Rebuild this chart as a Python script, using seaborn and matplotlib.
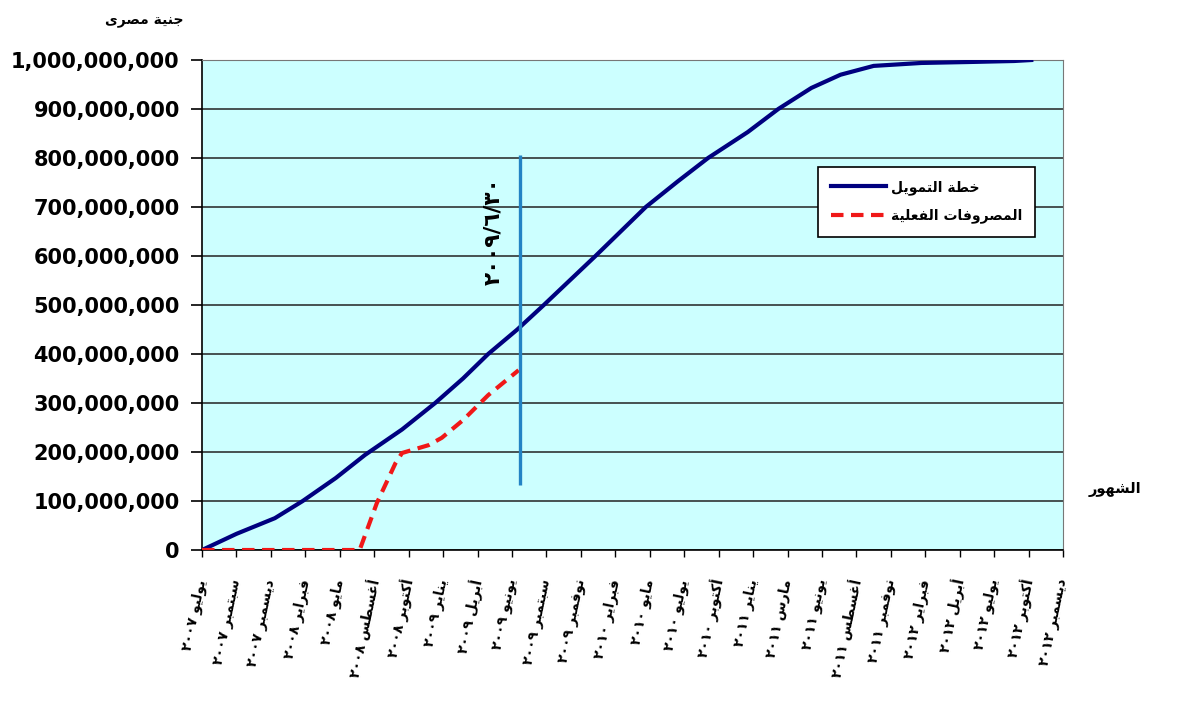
import numpy as np
import pandas as pd
import seaborn as sns
import matplotlib.pyplot as plt
from matplotlib.ticker import FuncFormatter


# months counted from July 2007 (0) to December 2012 (65)
plan_months = [0, 2.6, 5.5, 7.6, 10.1, 12.3, 15.1, 17.6, 19.7, 21.6, 23.8, 25.8, 29.7,
               33.5, 35.9, 38.2, 41.2, 43.5, 46.0, 48.2, 50.7, 54.3, 58.0, 61.3, 62.6]
plan_values = [0, 33e6, 65e6, 100e6, 147e6, 194e6, 246e6, 300e6, 350e6, 400e6, 450e6, 500e6, 600e6,
               700e6, 752e6, 800e6, 853e6, 900e6, 943e6, 970e6, 988e6, 994e6, 996e6, 998e6, 1000e6]

actual_months = [0, 3, 6, 9, 11.9, 13.2, 14.6, 15.1, 17.1, 18.1, 19.7, 21.6, 23.9]
actual_values = [0, 0, 0, 0, 0, 96e6, 177e6, 198e6, 214e6, 229e6, 265e6, 316e6, 367e6]

month_labels = ['يوليو ٢٠٠٧', 'سبتمبر ٢٠٠٧', 'ديسمبر ٢٠٠٧', 'فبراير ٢٠٠٨', 'مايو ٢٠٠٨',
                'أغسطس ٢٠٠٨', 'أكتوبر ٢٠٠٨', 'يناير ٢٠٠٩', 'أبريل ٢٠٠٩', 'يونيو ٢٠٠٩',
                'سبتمبر ٢٠٠٩', 'نوفمبر ٢٠٠٩', 'فبراير ٢٠١٠', 'مايو ٢٠١٠', 'يوليو ٢٠١٠',
                'أكتوبر ٢٠١٠', 'يناير ٢٠١١', 'مارس ٢٠١١', 'يونيو ٢٠١١', 'أغسطس ٢٠١١',
                'نوفمبر ٢٠١١', 'فبراير ٢٠١٢', 'أبريل ٢٠١٢', 'يوليو ٢٠١٢', 'أكتوبر ٢٠١٢',
                'ديسمبر ٢٠١٢']

cutoff_month = 23.97
cutoff_low = 133e6
cutoff_high = 806e6
cutoff_label = '٢٠٠٩/٦/٣٠'

plan_name = 'خطة التمويل'
actual_name = 'المصروفات الفعلية'
y_title = 'جنية مصرى'
x_title = 'الشهور'


# Presentation forms: isolated, final, initial, medial (None -> no left join)
FORMS = {
    'ا': ('\uFE8D', '\uFE8E', None, None),
    'أ': ('\uFE83', '\uFE84', None, None),
    'إ': ('\uFE87', '\uFE88', None, None),
    'آ': ('\uFE81', '\uFE82', None, None),
    'ب': ('\uFE8F', '\uFE90', '\uFE91', '\uFE92'),
    'ة': ('\uFE93', '\uFE94', None, None),
    'ت': ('\uFE95', '\uFE96', '\uFE97', '\uFE98'),
    'ث': ('\uFE99', '\uFE9A', '\uFE9B', '\uFE9C'),
    'ج': ('\uFE9D', '\uFE9E', '\uFE9F', '\uFEA0'),
    'ح': ('\uFEA1', '\uFEA2', '\uFEA3', '\uFEA4'),
    'خ': ('\uFEA5', '\uFEA6', '\uFEA7', '\uFEA8'),
    'د': ('\uFEA9', '\uFEAA', None, None),
    'ذ': ('\uFEAB', '\uFEAC', None, None),
    'ر': ('\uFEAD', '\uFEAE', None, None),
    'ز': ('\uFEAF', '\uFEB0', None, None),
    'س': ('\uFEB1', '\uFEB2', '\uFEB3', '\uFEB4'),
    'ش': ('\uFEB5', '\uFEB6', '\uFEB7', '\uFEB8'),
    'ص': ('\uFEB9', '\uFEBA', '\uFEBB', '\uFEBC'),
    'ض': ('\uFEBD', '\uFEBE', '\uFEBF', '\uFEC0'),
    'ط': ('\uFEC1', '\uFEC2', '\uFEC3', '\uFEC4'),
    'ظ': ('\uFEC5', '\uFEC6', '\uFEC7', '\uFEC8'),
    'ع': ('\uFEC9', '\uFECA', '\uFECB', '\uFECC'),
    'غ': ('\uFECD', '\uFECE', '\uFECF', '\uFED0'),
    'ف': ('\uFED1', '\uFED2', '\uFED3', '\uFED4'),
    'ق': ('\uFED5', '\uFED6', '\uFED7', '\uFED8'),
    'ك': ('\uFED9', '\uFEDA', '\uFEDB', '\uFEDC'),
    'ل': ('\uFEDD', '\uFEDE', '\uFEDF', '\uFEE0'),
    'م': ('\uFEE1', '\uFEE2', '\uFEE3', '\uFEE4'),
    'ن': ('\uFEE5', '\uFEE6', '\uFEE7', '\uFEE8'),
    'ه': ('\uFEE9', '\uFEEA', '\uFEEB', '\uFEEC'),
    'و': ('\uFEED', '\uFEEE', None, None),
    'ى': ('\uFEEF', '\uFEF0', None, None),
    'ي': ('\uFEF1', '\uFEF2', '\uFEF3', '\uFEF4'),
}


def shape_word(word):
    out = []
    for i, ch in enumerate(word):
        if ch not in FORMS:
            out.append(ch)
            continue
        prev = word[i - 1] if i > 0 else ''
        nxt = word[i + 1] if i + 1 < len(word) else ''
        f = FORMS[ch]
        join_prev = prev in FORMS and FORMS[prev][2] is not None
        join_next = f[2] is not None and nxt in FORMS
        if join_prev and join_next:
            out.append(f[3])
        elif join_prev:
            out.append(f[1])
        elif join_next:
            out.append(f[2])
        else:
            out.append(f[0])
    return ''.join(out)


def ar(text):
    # shape arabic letters and put words in visual (left to right) order
    visual = []
    for w in reversed(text.split(' ')):
        if any(c in FORMS for c in w):
            visual.append(shape_word(w)[::-1])
        else:
            visual.append(w)
    return ' '.join(visual)


def main():
    plt.rcParams['font.family'] = ['DejaVu Sans']
    fig = plt.figure(figsize=(11.8, 7.02), dpi=100)
    ax = fig.add_axes([0.1712, 0.2165, 0.7297, 0.698])
    ax.set_facecolor('#CCFFFF')

    plan = pd.DataFrame({'month': plan_months, 'value': plan_values})
    actual = pd.DataFrame({'month': actual_months, 'value': actual_values})

    ax.yaxis.grid(True, color='#222222', linewidth=1.1)
    ax.set_axisbelow(True)

    sns.lineplot(data=plan, x='month', y='value', ax=ax, color='#00007F',
                 linewidth=3.0, label=ar(plan_name), zorder=3)
    sns.lineplot(data=actual, x='month', y='value', ax=ax, color='#F01818',
                 linewidth=3.0, linestyle=(0, (3, 1.8)), label=ar(actual_name), zorder=3)

    ax.vlines(cutoff_month, cutoff_low, cutoff_high, color='#2383C4', linewidth=2.4, zorder=4)
    ax.text(22.0, 650e6, cutoff_label, rotation=90, ha='center', va='center',
            fontsize=15.5, fontweight='bold')

    ax.set_xlim(0, 65)
    ax.set_ylim(0, 1e9)
    ax.set_yticks(np.arange(0, 1.01e9, 1e8))
    ax.yaxis.set_major_formatter(FuncFormatter(lambda v, p: '{:,.0f}'.format(v)))
    ax.tick_params(axis='y', labelsize=15, length=8, width=1.2, pad=8)
    for t in ax.get_yticklabels():
        t.set_fontweight('bold')

    ax.set_xticks(np.linspace(0, 65, len(month_labels)))
    ax.set_xticklabels([ar(m) for m in month_labels], rotation=78, ha='right',
                       va='center', rotation_mode='anchor', fontsize=10, fontweight='bold')
    ax.tick_params(axis='x', length=5, width=1.0, pad=16)

    ax.set_xlabel('')
    ax.set_ylabel('')
    for side in ['left', 'bottom']:
        ax.spines[side].set_color('black')
        ax.spines[side].set_linewidth(1.2)
    for side in ['top', 'right']:
        ax.spines[side].set_color('#777777')
        ax.spines[side].set_linewidth(0.8)

    fig.text(0.122, 0.97, ar(y_title), ha='center', va='center', fontsize=10, fontweight='bold')
    fig.text(0.9445, 0.302, ar(x_title), ha='center', va='center', fontsize=10.5, fontweight='bold')

    leg = ax.legend(loc='upper left', bbox_to_anchor=(0.707, 0.796), frameon=True, fancybox=False,
                    edgecolor='black', framealpha=1, handlelength=4.0, handletextpad=0.3,
                    borderpad=0.95, labelspacing=1.0, prop={'weight': 'bold', 'size': 10})
    leg.get_frame().set_linewidth(1.2)

    fig.savefig('out.png', dpi=100)


if __name__ == '__main__':
    main()
